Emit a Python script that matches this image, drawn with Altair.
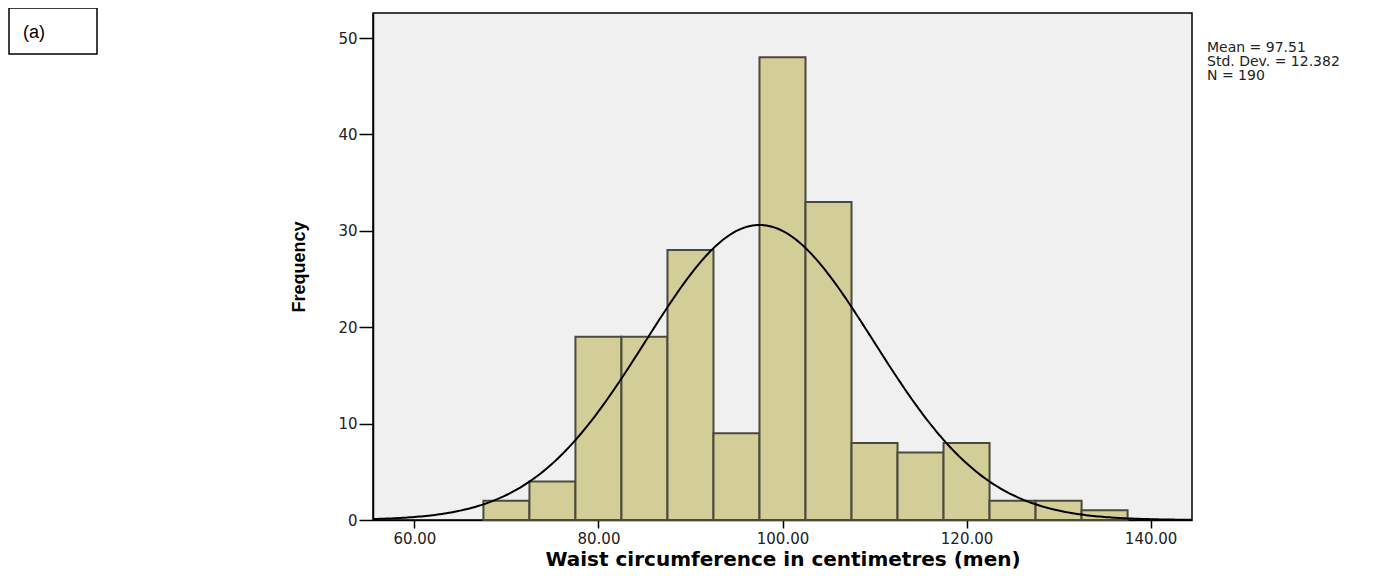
import altair as alt
import pandas as pd

# Histogram data (bin width 5)
bin_start = [67.5, 72.5, 77.5, 82.5, 87.5, 92.5, 97.5, 102.5, 107.5, 112.5, 117.5, 122.5, 127.5, 132.5]
bin_end = [72.5, 77.5, 82.5, 87.5, 92.5, 97.5, 102.5, 107.5, 112.5, 117.5, 122.5, 127.5, 132.5, 137.5]
counts = [2, 4, 19, 19, 28, 9, 48, 33, 8, 7, 8, 2, 2, 1]

# Summary statistics shown on the chart
mean_val = 97.51
sd_val = 12.382
n_val = 190
bin_width = 5

x_ticks = [60, 80, 100, 120, 140]
y_ticks = [0, 10, 20, 30, 40, 50]
stats_lines = ["Mean = 97.51", "Std. Dev. = 12.382", "N = 190"]

hist = pd.DataFrame({"start": bin_start, "end": bin_end, "count": counts})

x_scale = alt.Scale(domain=[55.5, 144.5], nice=False, zero=False)
y_scale = alt.Scale(domain=[0, 52.6], nice=False, zero=True)

x_axis = alt.Axis(
    values=x_ticks, format=".2f", tickSize=8, labelPadding=3,
    title="Waist circumference in centimetres (men)",
    titleFont="DejaVu Sans", titleFontWeight="bold", titleFontSize=20,
    titleColor="black", titleY=45, titleBaseline="alphabetic",
    labelFlush=False, labelOverlap=False,
)
y_axis = alt.Axis(
    values=y_ticks, format="d", tickSize=14, labelPadding=2,
    title="Frequency", titleFont="Liberation Sans", titleFontWeight="bold",
    titleFontSize=18, titleColor="black", titleX=-74, titleY=253.5,
    titleAngle=-90, titleAlign="center", titleBaseline="middle",
    labelFlush=False, labelOverlap=False,
)

bars = alt.Chart(hist).mark_rect(
    fill="#d3ce97", stroke="#4a4a3c", strokeWidth=2
).encode(
    x=alt.X("start:Q", scale=x_scale, axis=x_axis),
    x2="end:Q",
    y=alt.Y("count:Q", scale=y_scale, axis=y_axis),
    y2=alt.datum(0),
)

curve = alt.Chart(alt.sequence(55.5, 144.55, 0.25, as_="x")).transform_calculate(
    y=f"{n_val}*{bin_width}*densityNormal(datum.x, {mean_val}, {sd_val})"
).mark_line(color="black", strokeWidth=2).encode(
    x=alt.X("x:Q", scale=x_scale),
    y=alt.Y("y:Q", scale=y_scale),
)

one = pd.DataFrame({"a": [0]})

stats = alt.Chart(one).mark_text(
    text=stats_lines, align="left", baseline="alphabetic", font="DejaVu Sans",
    fontSize=14, lineHeight=14, color="#222"
).encode(x=alt.value(834), y=alt.value(39))

box = alt.Chart(one).mark_rect(
    fill="white", stroke="black", strokeWidth=1.5
).encode(x=alt.value(-364), x2=alt.value(-276), y=alt.value(-5), y2=alt.value(41))

label_a = alt.Chart(one).mark_text(
    text="(a)", align="left", baseline="middle", font="Liberation Sans",
    fontSize=18, color="black"
).encode(x=alt.value(-350), y=alt.value(20))

chart = alt.layer(bars, curve, stats, box, label_a).properties(
    width=819, height=507,
    autosize=alt.AutoSizeParams(type="none"),
    padding={"left": 365, "top": 5, "right": 193, "bottom": 56},
    background="white",
).configure_view(
    fill="#f0f0f0", stroke="black", strokeWidth=1.5
).configure_axis(
    grid=False, labelFont="DejaVu Sans", labelFontSize=15, labelColor="#222",
    tickColor="black", tickWidth=1.5, domainColor="black", domainWidth=1.5,
)

chart.save("out.html", embed_options={"renderer": "svg", "actions": False})
